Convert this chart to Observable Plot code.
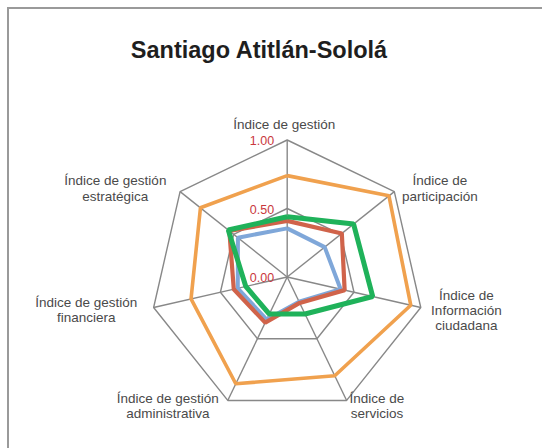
<!DOCTYPE html>
<html><head><meta charset="utf-8">
<script src="https://cdn.jsdelivr.net/npm/d3@7"></script>
<script src="https://cdn.jsdelivr.net/npm/@observablehq/plot@0.6"></script>
<style>
body{margin:0;background:#fff;overflow:hidden}
#wrap{position:relative;width:542px;height:448px;overflow:hidden}
#frame{position:absolute;left:7px;top:7px;width:600px;height:500px;border-left:2px solid #9a9a9a;border-top:2px solid #9a9a9a}
#title{position:absolute;left:0;top:37px;width:518px;text-align:center;font:bold 23.5px/26px "Liberation Sans",Arial,sans-serif;color:#1e1e1e;z-index:2}
#chart{position:absolute;left:0;top:0}
</style>
</head><body>
<div id="wrap"><div id="frame"></div><div id="title">Santiago Atitlán-Sololá</div><div id="chart"></div></div>
<script>
// Axis categories (clockwise from top)
const axes = ["Índice de gestión","Índice de\nparticipación","Índice de\nInformación\nciudadana","Índice de\nservicios","Índice de gestión\nadministrativa","Índice de gestión\nfinanciera","Índice de gestión\nestratégica"];
// Series values (same order as axes)
const serieAzul    = [0.355, 0.35, 0.40, 0.20, 0.345, 0.37, 0.46];
const serieRoja    = [0.41, 0.51, 0.43, 0.21, 0.37, 0.40, 0.54];
const serieNaranja = [0.74, 0.95, 0.925, 0.80, 0.865, 0.72, 0.81];
const serieVerde   = [0.44, 0.62, 0.64, 0.30, 0.30, 0.31, 0.55];
const seriesNames  = ["Azul","Roja","Naranja","Verde"];
const tickValues   = [0, 0.5, 1];
const gridLevels   = [0.5, 1];

const W = 542, H = 448, R = 137, cx = 286.7, cy = 276.5;
const n = axes.length;
const ang = i => i * 2 * Math.PI / n;
const px = (v,i) => v * Math.sin(ang(i));
const py = (v,i) => v * Math.cos(ang(i));

const seriesVals = [serieAzul, serieRoja, serieNaranja, serieVerde];
const colors = {"Azul":"#7fa7d9","Roja":"#d0634a","Naranja":"#f0a14e","Verde":"#1fb25a"};
const widths = {"Azul":4,"Roja":4.2,"Naranja":3.6,"Verde":5};

const seriesRows = [];
seriesNames.forEach((s,k)=>{
  for(let i=0;i<=n;i++){ const j=i%n; const v=seriesVals[k][j]; seriesRows.push({s, x:px(v,j), y:py(v,j)}); }
});
const gridRows = [];
gridLevels.forEach(l=>{ for(let i=0;i<=n;i++){ const j=i%n; gridRows.push({l, x:px(l,j), y:py(l,j)}); } });
const spokes = axes.map((a,i)=>({x1:0,y1:0,x2:px(1,i),y2:py(1,i)}));

const FS = 13.5;
const ctx = document.createElement("canvas").getContext("2d");
ctx.font = FS + "px 'Liberation Sans'";
const labels = axes.map((a,i)=>{
  const s = Math.sin(ang(i)), c = Math.abs(Math.cos(ang(i)));
  const w = d3.max(a.split("\n"), t=>ctx.measureText(t).width);
  const off = Math.abs(s) < 0.1 ? 0 : Math.sign(s) * w / 2;
  const ky = c > 0.95 ? 1.115 : c > 0.3 ? 1.04 : 1.08;
  return {text:a, x: px(1.1,i) + (off - 3)/R, y: py(ky,i)};
});

const marks = [
  Plot.line(gridRows, {x:"x", y:"y", z:"l", stroke:"#888", strokeWidth:1.4, strokeLinejoin:"miter"}),
  Plot.link(spokes, {x1:"x1", y1:"y1", x2:"x2", y2:"y2", stroke:"#888", strokeWidth:1.4})
];
seriesNames.forEach(s=>{
  marks.push(Plot.line(seriesRows.filter(d=>d.s===s), {x:"x", y:"y", stroke:colors[s], strokeWidth:widths[s], strokeLinejoin:"miter", strokeLinecap:"butt"}));
});
marks.push(Plot.text(tickValues, {x:()=>0, y:d=>d, text:d=>d.toFixed(2), textAnchor:"end", dx:-13, dy:1, fill:"#c9383d", fontSize:12.5, fontFamily:"Liberation Sans"}));
marks.push(Plot.text(labels, {x:"x", y:"y", text:"text", textAnchor:"middle", lineAnchor:"middle", lineHeight:1.12, fill:"#4a4a4a", fontSize:FS, fontFamily:"Liberation Sans"}));

const chart = Plot.plot({
  width: W, height: H, margin: 0,
  x: {domain: [-cx/R, (W-cx)/R], axis: null},
  y: {domain: [-(H-cy)/R, cy/R], axis: null},
  style: {background: "transparent"},
  marks
});
document.getElementById("chart").appendChild(chart);
</script>
</body></html>
